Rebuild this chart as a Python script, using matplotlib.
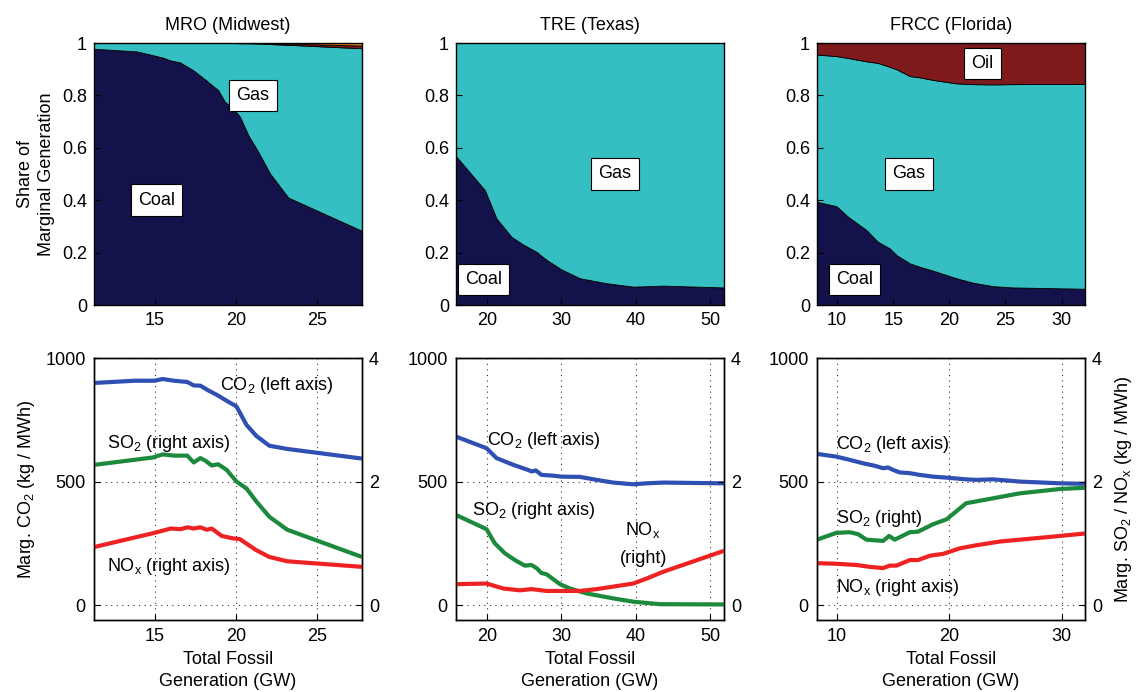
import numpy as np
import matplotlib
matplotlib.use("Agg")
import matplotlib.pyplot as plt

plt.rcParams['font.family'] = ['Liberation Sans', 'DejaVu Sans']
plt.rcParams['mathtext.fontset'] = 'custom'
plt.rcParams['mathtext.rm'] = 'Liberation Sans'
plt.rcParams['mathtext.it'] = 'Liberation Sans'
plt.rcParams['mathtext.default'] = 'regular'

# ---------------- data: share of marginal generation ----------------
mro_x = [11.23, 13.87, 14.9, 15.5, 15.93, 16.54, 17.36, 18.09, 18.9, 19.32, 19.83, 20.25, 20.76, 21.38, 22.1, 23.23, 27.78]
mro_coal = [0.978, 0.968, 0.953, 0.944, 0.934, 0.926, 0.896, 0.861, 0.82, 0.775, 0.75, 0.718, 0.648, 0.584, 0.502, 0.41, 0.283]
mro_oil = [0, 0, 0, 0, 0, 0, 0, 0, 0, 0, 0, 0.001, 0.001, 0.002, 0.003, 0.005, 0.01]
mro_other = [0, 0, 0, 0, 0, 0, 0, 0, 0, 0, 0, 0, 0, 0, 0.001, 0.002, 0.01]

tre_x = [15.8, 19.7, 21.26, 23.28, 24.85, 26.65, 27.55, 28.4, 30.0, 32.5, 36.1, 39.7, 43.7, 51.9]
tre_coal = [0.568, 0.438, 0.330, 0.26, 0.231, 0.203, 0.182, 0.165, 0.136, 0.102, 0.083, 0.070, 0.074, 0.067]
tre_oil = [0, 0, 0, 0, 0, 0, 0, 0, 0, 0, 0, 0, 0, 0]

frcc_x = [8.22, 9.95, 10.98, 12.62, 13.65, 14.7, 15.29, 16.48, 17.37, 18.56, 20.64, 22.12, 23.9, 25.69, 32.08]
frcc_coal = [0.394, 0.377, 0.337, 0.286, 0.241, 0.216, 0.191, 0.159, 0.146, 0.131, 0.102, 0.085, 0.072, 0.067, 0.062]
frcc_oil = [0.044, 0.050, 0.057, 0.070, 0.076, 0.091, 0.100, 0.126, 0.131, 0.141, 0.154, 0.157, 0.158, 0.157, 0.156]

# ---------------- data: marginal emissions ----------------
mro_co2_x = [11.23, 13.74, 14.96, 15.47, 16.18, 16.99, 17.39, 17.8, 18.31, 18.81, 19.42, 20.03, 20.64, 21.25, 22.06, 23.17, 27.78]
mro_co2 = [899, 908, 908, 915, 908, 903, 889, 888, 868, 851, 827, 804, 730, 685, 645, 632, 593]
mro_so2_x = [11.23, 14.86, 15.47, 16.18, 16.99, 17.39, 17.8, 18.1, 18.5, 18.9, 19.42, 20.03, 20.64, 21.25, 22.06, 23.17, 27.78]
mro_so2 = [2.27, 2.39, 2.44, 2.42, 2.42, 2.31, 2.38, 2.34, 2.26, 2.28, 2.19, 2.0, 1.89, 1.68, 1.43, 1.22, 0.78]
mro_nox_x = [11.23, 14.96, 15.97, 16.58, 16.99, 17.39, 17.8, 18.2, 18.5, 19.12, 19.83, 20.23, 21.25, 22.06, 23.17, 27.78]
mro_nox = [0.94, 1.17, 1.24, 1.23, 1.26, 1.24, 1.26, 1.22, 1.24, 1.12, 1.08, 1.07, 0.89, 0.78, 0.71, 0.62]

tre_co2_x = [15.8, 19.91, 21.26, 23.5, 25.52, 25.97, 26.56, 27.32, 28.89, 30.0, 32.48, 34.73, 36.97, 39.67, 41.46, 43.7, 51.9]
tre_co2 = [682, 635, 595, 568, 547, 541, 545, 527, 524, 520, 519, 507, 496, 489, 493, 496, 493]
tre_so2_x = [15.8, 19.91, 21.03, 22.38, 23.73, 25.07, 25.97, 26.65, 27.32, 28.0, 29.8, 31.14, 33.38, 36.97, 39.67, 43.26, 51.9]
tre_so2 = [1.46, 1.23, 1.0, 0.84, 0.73, 0.64, 0.65, 0.6, 0.52, 0.5, 0.34, 0.27, 0.19, 0.11, 0.056, 0.016, 0.012]
tre_nox_x = [15.8, 19.91, 22.16, 24.4, 25.97, 28.0, 29.8, 32.48, 34.73, 36.97, 39.67, 41.46, 43.7, 51.9]
tre_nox = [0.34, 0.35, 0.27, 0.24, 0.26, 0.23, 0.23, 0.23, 0.26, 0.3, 0.35, 0.43, 0.54, 0.88]

frcc_co2_x = [8.22, 9.94, 11.13, 12.32, 13.36, 14.1, 14.55, 15.0, 15.59, 16.48, 17.37, 18.56, 19.76, 21.5, 22.42, 23.9, 26.29, 29.85, 32.08]
frcc_co2 = [612, 601, 588, 574, 564, 554, 557, 547, 537, 534, 527, 520, 516, 509, 507, 509, 500, 493, 491]
frcc_so2_x = [8.22, 9.94, 11.13, 11.87, 12.62, 14.1, 14.64, 15.14, 16.48, 17.22, 18.56, 19.76, 21.5, 22.42, 23.9, 26.29, 29.85, 32.08]
frcc_so2 = [1.06, 1.17, 1.18, 1.15, 1.06, 1.04, 1.12, 1.06, 1.18, 1.19, 1.31, 1.39, 1.65, 1.68, 1.73, 1.81, 1.88, 1.9]
frcc_nox_x = [8.22, 9.94, 11.72, 12.91, 14.1, 14.7, 15.29, 16.48, 17.22, 18.26, 19.45, 20.94, 22.42, 24.5, 26.88, 29.85, 32.08]
frcc_nox = [0.68, 0.67, 0.65, 0.62, 0.6, 0.64, 0.64, 0.73, 0.73, 0.8, 0.83, 0.92, 0.97, 1.03, 1.07, 1.12, 1.16]

titles = ["MRO (Midwest)", "TRE (Texas)", "FRCC (Florida)"]
xlims = [(11.23, 27.78), (15.8, 51.9), (8.22, 32.08)]
xticks = [[15, 20, 25], [20, 30, 40, 50], [10, 15, 20, 25, 30]]
xticks_bot = [[15, 20, 25], [20, 30, 40, 50], [10, 20, 30]]

C_COAL = '#14124a'
C_GAS = '#35bfc2'
C_OIL = '#7e1a1c'
C_OTHER = '#f07a1a'
C_CO2 = '#2f4fb2'
C_SO2 = '#1c8a3c'
C_NOX = '#ee2222'

FS = 13

fig = plt.figure(figsize=(11.4, 6.92), dpi=100)
lefts = [94 / 1140, 456 / 1140, 817 / 1140]
W = 268 / 1140
H = 262 / 692
top_b = 1 - 305 / 692
bot_b = 1 - 620 / 692

box = dict(boxstyle='square,pad=0.4', facecolor='white', edgecolor='black', linewidth=0.8)

share_data = [
    (mro_x, mro_coal, mro_oil, mro_other),
    (tre_x, tre_coal, tre_oil, None),
    (frcc_x, frcc_coal, frcc_oil, None),
]

for i, (x, coal, oil, other) in enumerate(share_data):
    ax = fig.add_axes([lefts[i], top_b, W, H])
    coal = np.array(coal)
    oil = np.array(oil)
    oth = np.zeros_like(coal) if other is None else np.array(other)
    gas = 1 - coal - oil - oth
    layers = [coal, gas, oil, oth]
    cols = [C_COAL, C_GAS, C_OIL, C_OTHER]
    ax.stackplot(x, layers, colors=cols, edgecolor='black', linewidth=0.6)
    ax.set_xlim(*xlims[i])
    ax.set_ylim(0, 1)
    ax.set_xticks(xticks[i])
    ax.set_yticks([0, 0.2, 0.4, 0.6, 0.8, 1])
    ax.set_yticklabels(['0', '0.2', '0.4', '0.6', '0.8', '1'])
    ax.tick_params(direction='in', length=4, labelsize=FS, pad=5)
    ax.set_title(titles[i], fontsize=FS, pad=9)
    for s in ax.spines.values():
        s.set_linewidth(1.0)
    if i == 0:
        ax.set_ylabel("Share of\nMarginal Generation", fontsize=FS, labelpad=5, linespacing=1.3)
        ax.text(21.05, 0.80, "Gas", fontsize=FS, ha='center', va='center', bbox=box)
        ax.text(15.1, 0.40, "Coal", fontsize=FS, ha='center', va='center', bbox=box)
    elif i == 1:
        ax.text(37.2, 0.50, "Gas", fontsize=FS, ha='center', va='center', bbox=box)
        ax.text(19.5, 0.098, "Coal", fontsize=FS, ha='center', va='center', bbox=box)
    else:
        ax.text(22.96, 0.921, "Oil", fontsize=FS, ha='center', va='center', bbox=box)
        ax.text(16.42, 0.50, "Gas", fontsize=FS, ha='center', va='center', bbox=box)
        ax.text(11.58, 0.098, "Coal", fontsize=FS, ha='center', va='center', bbox=box)

em_data = [
    (mro_co2_x, mro_co2, mro_so2_x, mro_so2, mro_nox_x, mro_nox),
    (tre_co2_x, tre_co2, tre_so2_x, tre_so2, tre_nox_x, tre_nox),
    (frcc_co2_x, frcc_co2, frcc_so2_x, frcc_so2, frcc_nox_x, frcc_nox),
]

for i, (cx, cy, sx, sy, nx, ny) in enumerate(em_data):
    ax = fig.add_axes([lefts[i], bot_b, W, H])
    ax2 = ax.twinx()
    ax.set_xlim(*xlims[i])
    ax.set_ylim(-60, 1000)
    ax2.set_ylim(-0.24, 4)
    ax.set_xticks(xticks_bot[i])
    ax.set_yticks([0, 500, 1000])
    ax2.set_yticks([0, 2, 4])
    ax.grid(True, linestyle=(0, (1, 4)), color='#333333', linewidth=0.8)
    ax.plot(cx, cy, color=C_CO2, linewidth=3, solid_capstyle='butt', zorder=3)
    ax2.plot(sx, sy, color=C_SO2, linewidth=3, solid_capstyle='butt')
    ax2.plot(nx, ny, color=C_NOX, linewidth=3, solid_capstyle='butt')
    ax.tick_params(direction='in', length=4, labelsize=FS, pad=6)
    ax2.tick_params(direction='in', length=4, labelsize=FS, pad=5)
    for s in list(ax.spines.values()) + list(ax2.spines.values()):
        s.set_linewidth(1.0)
    ax.set_xlabel("Total Fossil\nGeneration (GW)", fontsize=FS, labelpad=4, linespacing=1.4)
    if i == 0:
        ax.set_ylabel("Marg. CO$_2$ (kg / MWh)", fontsize=FS, labelpad=6)
        ax.text(19.0, 872, "CO$_2$ (left axis)", fontsize=FS, ha='left', va='baseline')
        ax.text(12.02, 635, "SO$_2$ (right axis)", fontsize=FS, ha='left', va='baseline')
        ax.text(12.02, 139, "NO$_x$ (right axis)", fontsize=FS, ha='left', va='baseline')
    elif i == 1:
        ax.text(20.0, 649, "CO$_2$ (left axis)", fontsize=FS, ha='left', va='baseline')
        ax.text(18.0, 365, "SO$_2$ (right axis)", fontsize=FS, ha='left', va='baseline')
        ax.text(41.0, 284, "NO$_x$", fontsize=FS, ha='center', va='baseline')
        ax.text(41.0, 169, "(right)", fontsize=FS, ha='center', va='baseline')
    else:
        ax.text(9.94, 631, "CO$_2$ (left axis)", fontsize=FS, ha='left', va='baseline')
        ax.text(9.94, 331, "SO$_2$ (right)", fontsize=FS, ha='left', va='baseline')
        ax.text(9.94, 54, "NO$_x$ (right axis)", fontsize=FS, ha='left', va='baseline')
        ax2.set_ylabel("Marg. SO$_2$ / NO$_x$ (kg / MWh)", fontsize=FS, labelpad=8)

fig.savefig("out.png", dpi=100)
